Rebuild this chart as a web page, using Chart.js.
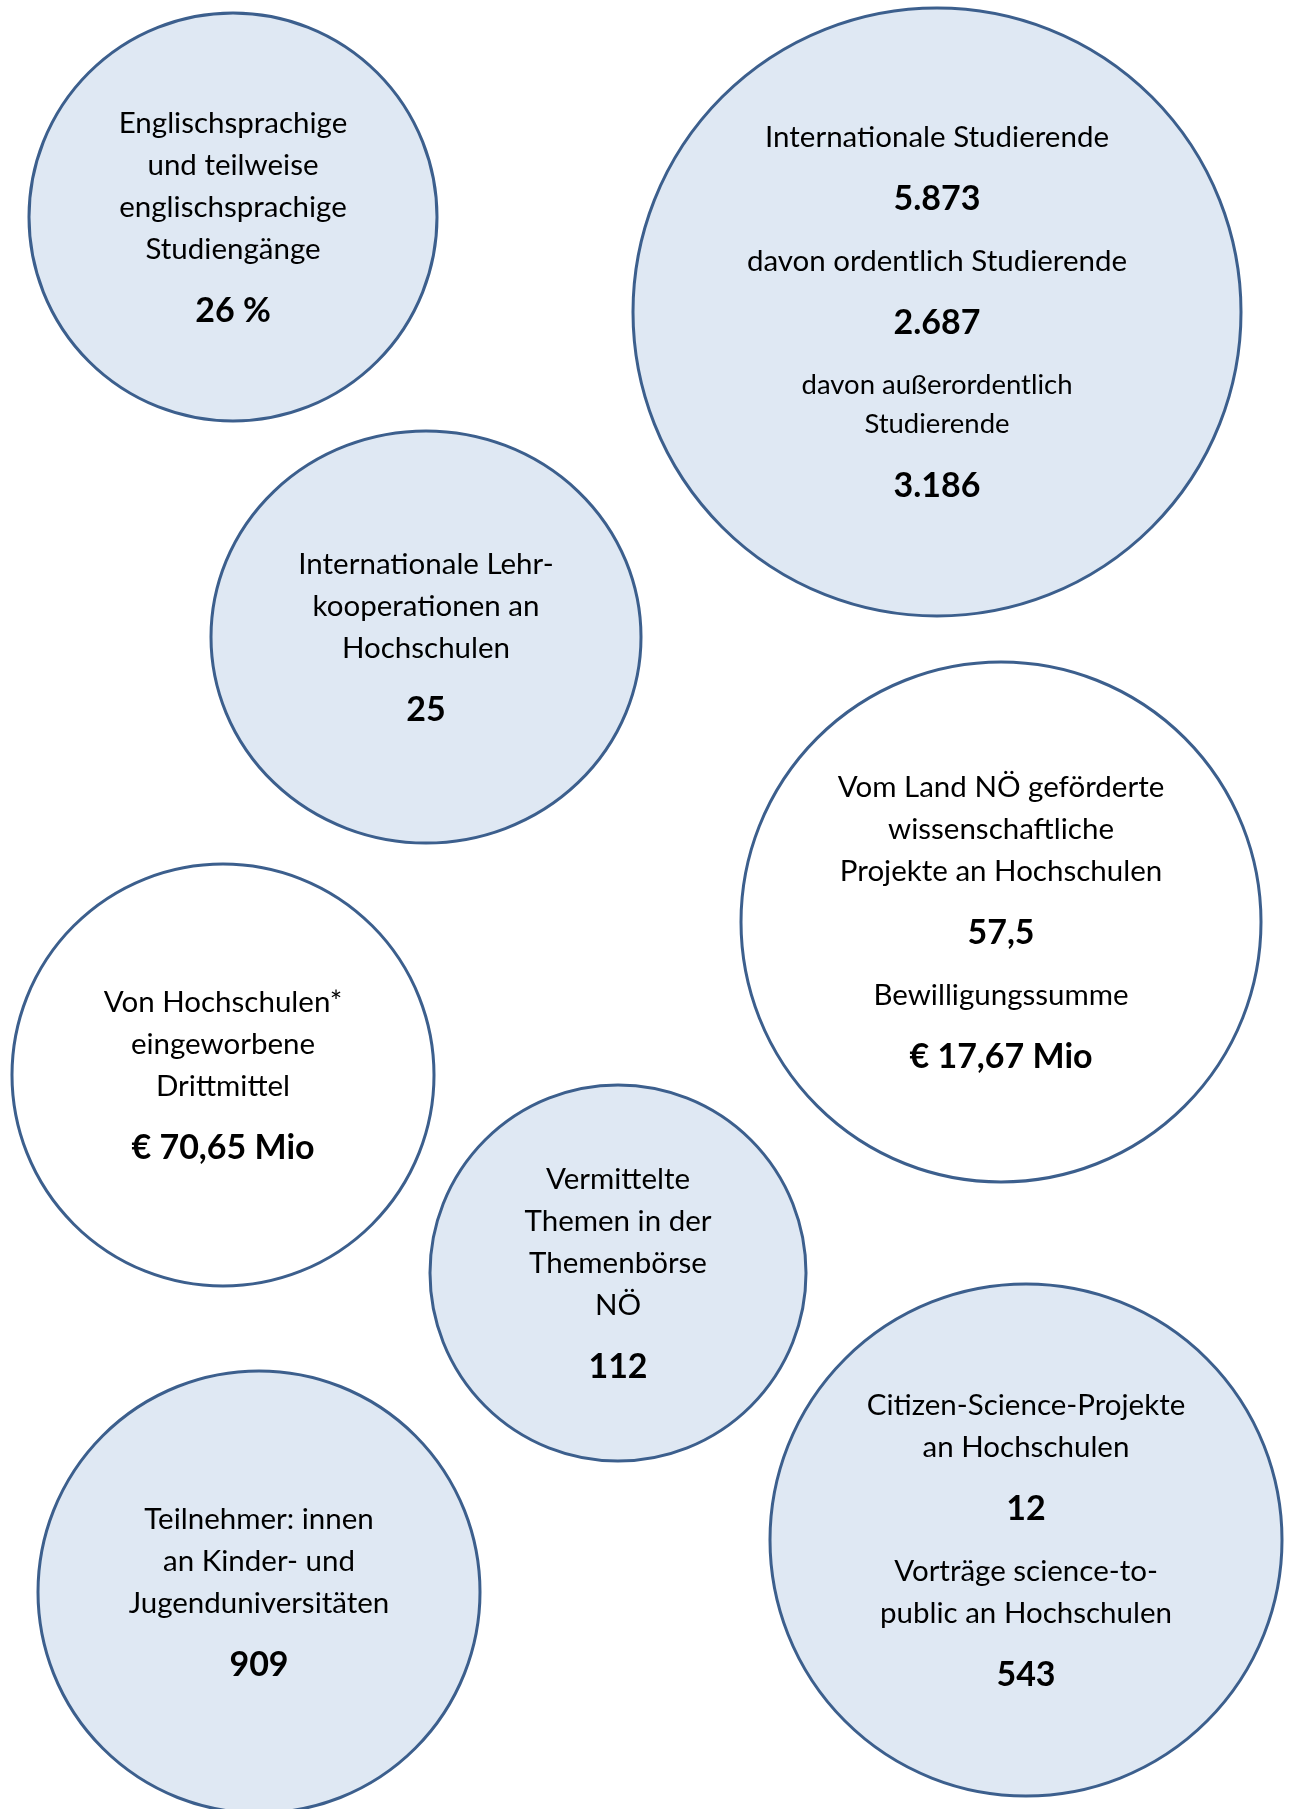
<!DOCTYPE html>
<html>
<head>
<meta charset="utf-8">
<script src="https://cdn.jsdelivr.net/npm/chart.js@4"></script>
<style>
  html, body { margin: 0; padding: 0; background: #fff; }
  #wrap { width: 1290px; height: 1809px; position: relative; }
</style>
</head>
<body>
<div id="wrap"><canvas id="bubbles"></canvas></div>
<script>
// bubble centres and radii (chart units = page pixels)
const bubbleX = [233, 937, 426, 1001, 223, 618, 259, 1026];
const bubbleY = [217, 312, 637, 922, 1075, 1273, 1592, 1540];
const bubbleR = [204, 304, 215, 260, 211, 188, 221, 256];
const bubbleRy = [204, 304, 206, 260, 211, 188, 221, 256];

// texts in each bubble: groups of label lines, each followed by its value
const bubbleLabels = [
	[['Englischsprachige', 'und teilweise', 'englischsprachige', 'Studiengänge']],
	[['Internationale Studierende'], ['davon ordentlich Studierende'], ['davon außerordentlich', 'Studierende']],
	[['Internationale Lehr-', 'kooperationen an', 'Hochschulen']],
	[['Vom Land NÖ geförderte', 'wissenschaftliche', 'Projekte an Hochschulen'], ['Bewilligungssumme']],
	[['Von Hochschulen*', 'eingeworbene', 'Drittmittel']],
	[['Vermittelte', 'Themen in der', 'Themenbörse', 'NÖ']],
	[['Teilnehmer: innen', 'an Kinder- und', 'Jugenduniversitäten']],
	[['Citizen-Science-Projekte', 'an Hochschulen'], ['Vorträge science-to-', 'public an Hochschulen']]
];
const bubbleValues = [
	['26 %'],
	['5.873', '2.687', '3.186'],
	['25'],
	['57,5', '€ 17,67 Mio'],
	['€ 70,65 Mio'],
	['112'],
	['909'],
	['12', '543']
];

const fillBlue = '#dfe8f3';
const fillWhite = '#ffffff';
const bubbleFills = [fillBlue, fillBlue, fillBlue, fillWhite, fillWhite, fillBlue, fillBlue, fillBlue];
const outline = '#3c5f8d';
const fontFamily = 'Lato, "Open Sans", sans-serif';

// elliptic bubbles get drawn from a small canvas
function ellipseStyle (i) {
	const rx = bubbleR[i], ry = bubbleRy[i];
	const c = document.createElement('canvas');
	c.width = 2 * rx + 6;
	c.height = 2 * ry + 6;
	const g = c.getContext('2d');
	g.beginPath();
	g.ellipse(c.width / 2, c.height / 2, rx, ry, 0, 0, Math.PI * 2);
	g.fillStyle = bubbleFills[i];
	g.fill();
	g.lineWidth = 3;
	g.strokeStyle = outline;
	g.stroke();
	return c;
}

// writes the label lines and values centred in each bubble
const bubbleText = {
	id: 'bubbleText',
	afterDatasetsDraw (chart) {
		const ctx = chart.ctx;
		const meta = chart.getDatasetMeta(0);
		meta.data.forEach((pt, i) => {
			const rows = [];
			bubbleLabels[i].forEach((group, g) => {
				const small = group.length > 1 && group[0].startsWith('davon');
				group.forEach(line => rows.push({ text: line, bold: false, small: small }));
				rows.push({ text: bubbleValues[i][g], bold: true });
			});
			// vertical positions
			const ys = [0];
			for (let k = 1; k < rows.length; k++) {
				let gap = 42;
				if (rows[k].bold || rows[k - 1].bold) gap = 62;
				else if (rows[k].small && rows[k - 1].small) gap = 39;
				ys.push(ys[k - 1] + gap);
			}
			const top = pt.y - ys[ys.length - 1] / 2;
			ctx.save();
			ctx.fillStyle = '#000';
			ctx.textAlign = 'center';
			ctx.textBaseline = 'middle';
			rows.forEach((row, k) => {
				if (row.bold) ctx.font = `bold 34px ${fontFamily}`;
				else if (row.small) ctx.font = `27.5px ${fontFamily}`;
				else ctx.font = `29.5px ${fontFamily}`;
				ctx.fillText(row.text, pt.x, top + ys[k]);
			});
			ctx.restore();
		});
	}
};

const points = bubbleX.map((x, i) => ({ x: x, y: bubbleY[i], r: bubbleR[i] }));

new Chart(document.getElementById('bubbles'), {
	type: 'bubble',
	data: {
		datasets: [{
			data: points,
			backgroundColor: bubbleFills,
			borderColor: outline,
			borderWidth: 3,
			pointStyle: (c) => bubbleR[c.dataIndex] !== bubbleRy[c.dataIndex] ? ellipseStyle(c.dataIndex) : 'circle',
			clip: false
		}]
	},
	options: {
		responsive: true,
		maintainAspectRatio: false,
		animation: false,
		events: [],
		layout: { padding: 0, autoPadding: false },
		plugins: { legend: { display: false }, tooltip: { enabled: false } },
		scales: {
			x: { type: 'linear', min: 0, max: 1290, display: false },
			y: { type: 'linear', min: 0, max: 1809, reverse: true, display: false }
		}
	},
	plugins: [bubbleText]
});
</script>
</body>
</html>
